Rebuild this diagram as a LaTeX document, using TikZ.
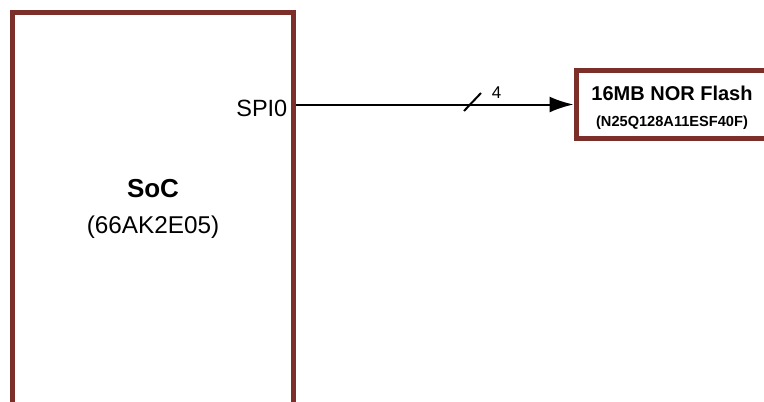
\documentclass[tikz,border=0pt]{standalone}
\usepackage{fontspec}
\setmainfont{Liberation Sans}
\usetikzlibrary{arrows.meta}
\definecolor{chipbrown}{RGB}{123,47,40}
\begin{document}
\begin{tikzpicture}[x=1pt,y=-1pt,
  chip/.style={draw=chipbrown, line width=5pt, fill=white, rectangle, inner sep=0pt},
  lbl/.style={inner sep=0pt, text=black},
  bus/.style={draw=black, line width=2pt}]
\useasboundingbox (0,0) rectangle (764,402);
\clip (0,0) rectangle (764,402);
\fill[white] (0,0) rectangle (764,402);
\node[chip, minimum width=281pt, minimum height=440pt] (soc) at (153,232.5) {};
\node[chip, minimum width=192pt, minimum height=68.5pt] (flash) at (672,104.5) {};
\node[lbl, font=\fontsize{26}{30}\selectfont\bfseries] (socname) at (153,189) {SoC};
\node[lbl, font=\fontsize{24.3}{29}\selectfont] (socpart) at (153,227) {(66AK2E05)};
\node[lbl, font=\fontsize{23.5}{28}\selectfont, anchor=east] (spi) at (287.5,108) {SPI0};
\node[lbl, font=\fontsize{20}{24}\selectfont\bfseries] (ftitle) at (672,93) {16MB NOR Flash};
\node[lbl, font=\fontsize{14.6}{18}\selectfont\bfseries] (fpart) at (672,123) {(N25Q128A11ESF40F)};
\draw[bus, -{Latex[length=24pt,width=16pt]}] (soc.east |- flash.west) -- (flash.west);
\node[lbl, font=\fontsize{17}{20}\selectfont] (buswidth) at (496.5,93) {4};
\draw[bus] (464,111) -- (481,93);
\end{tikzpicture}
\end{document}
